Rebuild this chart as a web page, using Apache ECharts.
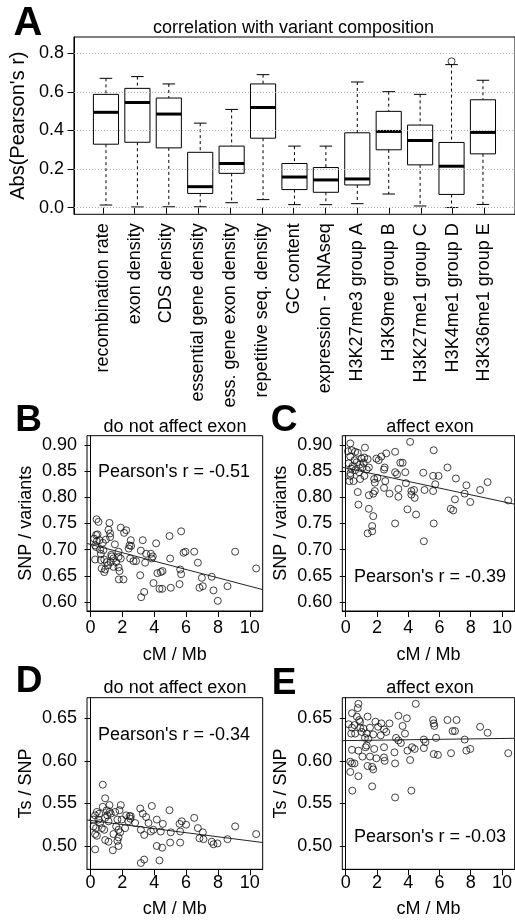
<!DOCTYPE html>
<html>
<head>
<meta charset="utf-8">
<script src="https://cdn.jsdelivr.net/npm/echarts@6/dist/echarts.min.js"></script>
<style>
  html, body { margin: 0; padding: 0; background: #fff; }
  #chart { width: 515px; height: 922px; }
</style>
</head>
<body>
<div id="chart"></div>
<script>
// panel A: correlation of each feature with variant composition
const categories = ['recombination rate', 'exon density', 'CDS density', 'essential gene density',
  'ess. gene exon density', 'repetitive seq. density', 'GC content', 'expression - RNAseq',
  'H3K27me3 group A', 'H3K9me group B', 'H3K27me1 group C', 'H3K4me1 group D', 'H3K36me1 group E']
const boxMin = [0.014, 0.004, 0.005, 0.005, 0.026, 0.042, 0.016, 0.016, 0.021, 0.071, 0.009, 0.001, 0.017]
const boxQ1 = [0.329, 0.339, 0.310, 0.074, 0.178, 0.360, 0.094, 0.080, 0.118, 0.300, 0.222, 0.069, 0.279]
const boxMedian = [0.494, 0.545, 0.485, 0.109, 0.229, 0.519, 0.159, 0.144, 0.149, 0.395, 0.348, 0.215, 0.390]
const boxQ3 = [0.587, 0.618, 0.568, 0.287, 0.319, 0.641, 0.229, 0.208, 0.388, 0.499, 0.428, 0.338, 0.559]
const boxMax = [0.670, 0.679, 0.641, 0.438, 0.509, 0.689, 0.319, 0.319, 0.651, 0.601, 0.587, 0.741, 0.660]
const outliers = [[12, 0.758]]
const ticksA = [0, 0.2, 0.4, 0.6, 0.8]

// panels B-E: per window [cM/Mb, ratio]
const snpNonExon = [
  [0.38, 0.758], [0.50, 0.753], [1.19, 0.751], [1.90, 0.742], [2.24, 0.737], [2.11, 0.732], [1.13, 0.738],
  [1.23, 0.731], [0.35, 0.728], [0.44, 0.729], [0.23, 0.721], [0.56, 0.718], [0.77, 0.713], [0.96, 0.719],
  [1.23, 0.724], [2.53, 0.718], [2.45, 0.708], [1.53, 0.710], [3.28, 0.718], [4.12, 0.712], [4.96, 0.726],
  [5.69, 0.735], [0.29, 0.708], [0.35, 0.705], [0.81, 0.699], [0.65, 0.692], [1.76, 0.696], [3.16, 0.698],
  [3.49, 0.692], [3.79, 0.692], [3.91, 0.687], [1.34, 0.687], [1.44, 0.683], [1.76, 0.686], [1.90, 0.683],
  [0.29, 0.681], [0.65, 0.680], [0.86, 0.681], [1.02, 0.676], [1.27, 0.676], [1.61, 0.676], [2.49, 0.683],
  [2.70, 0.678], [2.86, 0.678], [3.43, 0.675], [3.85, 0.683], [5.00, 0.683], [5.84, 0.694], [5.96, 0.696],
  [6.51, 0.696], [9.08, 0.696], [6.74, 0.675], [10.40, 0.664], [0.92, 0.662], [0.86, 0.657], [1.44, 0.667],
  [1.76, 0.666], [1.82, 0.659], [3.12, 0.651], [4.20, 0.655], [4.41, 0.657], [4.52, 0.659], [5.63, 0.662],
  [5.69, 0.653], [6.99, 0.646], [7.61, 0.648], [1.78, 0.643], [2.07, 0.643], [3.95, 0.636], [4.33, 0.625],
  [4.50, 0.625], [5.04, 0.627], [5.59, 0.634], [6.84, 0.627], [7.05, 0.630], [7.72, 0.622], [8.60, 0.630],
  [3.37, 0.619], [3.18, 0.609], [7.99, 0.602], [0.40, 0.716], [0.60, 0.700], [1.10, 0.670], [0.70, 0.664],
  [1.30, 0.690], [2.40, 0.702], [2.55, 0.707]
]
const snpExon = [
  [0.29, 0.903], [4.12, 0.906], [0.14, 0.888], [0.39, 0.890], [0.60, 0.887], [0.77, 0.885], [1.23, 0.895],
  [5.63, 0.890], [3.16, 0.887], [2.59, 0.884], [2.28, 0.878], [1.96, 0.874], [2.11, 0.871], [1.02, 0.874],
  [1.19, 0.876], [1.40, 0.873], [0.29, 0.878], [0.56, 0.871], [0.19, 0.865], [0.71, 0.867], [0.92, 0.863],
  [1.07, 0.857], [0.35, 0.855], [0.60, 0.852], [1.34, 0.853], [1.48, 0.857], [2.49, 0.857], [2.45, 0.853],
  [3.49, 0.866], [3.64, 0.866], [6.51, 0.857], [3.16, 0.848], [3.28, 0.844], [3.81, 0.848], [4.96, 0.847],
  [5.59, 0.841], [5.94, 0.841], [7.05, 0.836], [9.08, 0.829], [7.72, 0.823], [0.29, 0.841], [0.23, 0.831],
  [0.50, 0.831], [0.92, 0.835], [1.19, 0.841], [1.82, 0.835], [2.03, 0.837], [2.53, 0.831], [1.86, 0.828],
  [3.85, 0.827], [5.73, 0.825], [2.45, 0.818], [3.37, 0.816], [4.20, 0.812], [4.37, 0.814], [5.04, 0.814],
  [5.59, 0.812], [7.61, 0.807], [8.60, 0.814], [10.40, 0.794], [0.77, 0.810], [1.86, 0.812], [1.76, 0.807],
  [1.48, 0.804], [2.80, 0.807], [3.37, 0.801], [4.20, 0.805], [4.41, 0.799], [6.99, 0.796], [7.97, 0.791],
  [0.81, 0.786], [1.48, 0.778], [3.95, 0.777], [4.50, 0.767], [6.72, 0.778], [6.88, 0.775], [1.76, 0.764],
  [3.16, 0.750], [5.63, 0.750], [1.69, 0.745], [1.69, 0.735], [1.40, 0.731], [5.00, 0.716], [0.45, 0.860],
  [0.85, 0.848], [1.15, 0.866], [0.30, 0.846]
]
const tsNonExon = [
  [0.77, 0.572], [0.92, 0.556], [0.40, 0.540], [0.29, 0.536], [0.77, 0.546], [1.19, 0.548], [1.02, 0.542],
  [1.27, 0.538], [1.90, 0.548], [1.82, 0.542], [1.55, 0.540], [2.24, 0.536], [2.45, 0.535], [2.53, 0.535],
  [3.12, 0.544], [3.85, 0.547], [4.96, 0.542], [3.28, 0.538], [3.49, 0.534], [0.19, 0.531], [0.50, 0.531],
  [0.60, 0.527], [0.92, 0.533], [1.13, 0.529], [1.69, 0.531], [1.96, 0.531], [2.38, 0.529], [2.80, 0.527],
  [3.64, 0.527], [4.16, 0.531], [4.54, 0.526], [5.73, 0.529], [5.59, 0.526], [6.00, 0.525], [6.51, 0.533],
  [0.19, 0.523], [0.35, 0.521], [0.71, 0.521], [0.86, 0.519], [1.61, 0.523], [1.76, 0.519], [2.17, 0.521],
  [3.16, 0.519], [3.95, 0.519], [4.41, 0.517], [5.04, 0.516], [5.63, 0.517], [6.74, 0.521], [7.05, 0.516],
  [9.08, 0.523], [10.40, 0.514], [0.29, 0.514], [0.40, 0.512], [1.44, 0.514], [1.86, 0.516], [3.37, 0.513],
  [3.79, 0.517], [6.84, 0.509], [7.09, 0.508], [7.61, 0.505], [7.72, 0.502], [7.97, 0.503], [8.60, 0.508],
  [1.76, 0.510], [1.69, 0.506], [0.92, 0.507], [1.13, 0.505], [5.00, 0.504], [5.63, 0.504], [4.16, 0.500],
  [4.50, 0.498], [1.76, 0.500], [1.40, 0.495], [0.29, 0.496], [3.16, 0.480], [3.37, 0.484], [4.33, 0.483],
  [1.05, 0.536], [1.20, 0.540], [2.50, 0.532], [0.55, 0.538]
]
const tsExon = [
  [0.81, 0.667], [0.77, 0.662], [4.48, 0.667], [0.40, 0.656], [0.71, 0.652], [0.86, 0.648], [0.92, 0.646],
  [1.40, 0.652], [0.19, 0.643], [0.56, 0.642], [1.90, 0.646], [2.28, 0.644], [2.80, 0.644], [3.37, 0.653],
  [3.91, 0.650], [3.64, 0.641], [5.59, 0.648], [5.63, 0.644], [5.67, 0.641], [6.51, 0.648], [7.09, 0.648],
  [6.84, 0.635], [6.99, 0.635], [8.60, 0.640], [9.08, 0.633], [0.40, 0.639], [0.92, 0.639], [1.13, 0.638],
  [1.55, 0.639], [2.07, 0.640], [2.45, 0.637], [2.59, 0.634], [0.35, 0.632], [0.60, 0.632], [1.02, 0.634],
  [1.34, 0.632], [1.76, 0.631], [2.24, 0.630], [3.79, 0.632], [1.23, 0.627], [1.44, 0.626], [3.22, 0.627],
  [3.37, 0.624], [3.53, 0.621], [5.00, 0.625], [5.10, 0.622], [5.78, 0.627], [7.61, 0.625], [0.40, 0.613],
  [0.81, 0.612], [1.27, 0.616], [1.34, 0.618], [1.82, 0.614], [2.45, 0.616], [3.12, 0.610], [3.95, 0.612],
  [4.24, 0.616], [4.41, 0.614], [5.00, 0.615], [5.63, 0.608], [5.90, 0.607], [6.74, 0.609], [7.72, 0.612],
  [7.97, 0.614], [10.40, 0.609], [1.07, 0.605], [1.55, 0.605], [1.96, 0.603], [2.45, 0.604], [2.49, 0.600],
  [3.16, 0.597], [4.12, 0.601], [0.29, 0.599], [0.40, 0.597], [0.56, 0.597], [1.40, 0.594], [1.69, 0.593],
  [1.76, 0.590], [0.29, 0.587], [0.81, 0.582], [1.69, 0.570], [0.42, 0.565], [3.16, 0.557], [4.20, 0.565]
]
// regression fits [intercept, slope]
const fitSnpNonExon = [0.710, -0.0080]
const fitSnpExon = [0.856, -0.0064]
const fitTsNonExon = [0.530, -0.0024]
const fitTsExon = [0.6238, 0.00025]
const ticksX = [0, 2, 4, 6, 8, 10]
const ticksSnp = [0.60, 0.65, 0.70, 0.75, 0.80, 0.85, 0.90]
const ticksTs = [0.50, 0.55, 0.60, 0.65]

const FONT = '"Liberation Sans", Arial, Helvetica, sans-serif'
const X_RANGE = [-0.22, 10.81]

const chart = echarts.init(document.getElementById('chart'), null, { renderer: 'canvas' })

function fitLine(fit) {
  return X_RANGE.map((x) => [x, fit[0] + fit[1] * x])
}

// 箱线图: 虚线须 + 白底箱 + 粗中位线
function renderBox(params, api) {
  const x = api.value(0)
  const yOf = (v) => api.coord([x, v])[1]
  const xl = api.coord([x - 0.4, 0])[0]
  const xr = api.coord([x + 0.4, 0])[0]
  const cl = api.coord([x - 0.2, 0])[0]
  const cr = api.coord([x + 0.2, 0])[0]
  const xc = api.coord([x, 0])[0]
  const yMin = yOf(api.value(1))
  const yQ1 = yOf(api.value(2))
  const yMed = yOf(api.value(3))
  const yQ3 = yOf(api.value(4))
  const yMax = yOf(api.value(5))
  const dashed = { stroke: '#000', lineWidth: 1, lineDash: [3, 3] }
  const solid = { stroke: '#000', lineWidth: 1 }
  return {
    type: 'group',
    children: [
      { type: 'line', shape: { x1: xc, y1: yMax, x2: xc, y2: yQ3 }, style: dashed },
      { type: 'line', shape: { x1: xc, y1: yQ1, x2: xc, y2: yMin }, style: dashed },
      { type: 'line', shape: { x1: cl, y1: yMax, x2: cr, y2: yMax }, style: solid },
      { type: 'line', shape: { x1: cl, y1: yMin, x2: cr, y2: yMin }, style: solid },
      { type: 'rect', shape: { x: xl, y: yQ3, width: xr - xl, height: yQ1 - yQ3 }, style: { fill: '#fff', stroke: '#000', lineWidth: 1 } },
      { type: 'line', shape: { x1: xl, y1: yMed, x2: xr, y2: yMed }, style: { stroke: '#000', lineWidth: 3 } }
    ]
  }
}

const scatterGrids = [
  { left: 87, top: 435.7, width: 175.7, height: 175.3 },
  { left: 342.3, top: 435.7, width: 175.7, height: 175.3 },
  { left: 87, top: 697.7, width: 175.7, height: 171.6 },
  { left: 342.3, top: 697.7, width: 175.7, height: 171.6 }
]

const labelStyle = { color: '#000', fontSize: 18, fontFamily: FONT }

function scatterX(gridIndex, margin, nameGap) {
  return {
    type: 'value', gridIndex, min: X_RANGE[0], max: X_RANGE[1],
    name: 'cM / Mb', nameLocation: 'middle', nameGap,
    nameTextStyle: labelStyle,
    axisLine: { show: true, lineStyle: { color: '#000' } },
    axisTick: { length: 6, customValues: ticksX, lineStyle: { color: '#000' } },
    axisLabel: { ...labelStyle, margin, customValues: ticksX, formatter: (v) => String(v) },
    splitLine: { show: false }
  }
}

function scatterY(gridIndex, range, ticks, name) {
  return {
    type: 'value', gridIndex, min: range[0], max: range[1],
    name, nameLocation: 'middle', nameGap: 52, nameRotate: 90,
    nameTextStyle: labelStyle,
    axisLine: { show: true, lineStyle: { color: '#000' } },
    axisTick: { length: 6, customValues: ticks, lineStyle: { color: '#000' } },
    axisLabel: { ...labelStyle, margin: 10, customValues: ticks, formatter: (v) => v.toFixed(2) },
    splitLine: { show: false }
  }
}

function pointSeries(data, idx) {
  return {
    type: 'scatter', xAxisIndex: idx, yAxisIndex: idx, data,
    symbol: 'circle', symbolSize: 7,
    itemStyle: { color: 'transparent', borderColor: '#111', borderWidth: 1 },
    silent: true, z: 3
  }
}

function fitSeries(fit, idx) {
  return {
    type: 'line', xAxisIndex: idx, yAxisIndex: idx, data: fitLine(fit),
    symbol: 'none', lineStyle: { color: '#222', width: 1 }, silent: true, z: 2
  }
}

function txt(text, x, y, size, bold) {
  return {
    type: 'text', x, y, silent: true,
    style: {
      text, fill: '#000', align: 'center', verticalAlign: 'middle',
      font: (bold ? 'bold ' : '') + size + 'px ' + FONT
    }
  }
}

const boxData = categories.map((c, i) => [i + 1, boxMin[i], boxQ1[i], boxMedian[i], boxQ3[i], boxMax[i]])

const option = {
  animation: false,
  backgroundColor: '#fff',
  grid: [
    { left: 70, top: 37, width: 447, height: 177.3, show: true, borderColor: '#000', borderWidth: 1, backgroundColor: 'transparent' },
    { left: 87, top: 37, width: 413.4, height: 177.3 },
    ...scatterGrids.map((g) => ({ ...g, show: true, borderColor: '#000', borderWidth: 1, backgroundColor: 'transparent' }))
  ],
  xAxis: [
    { type: 'value', gridIndex: 0, min: -0.02, max: 14.02, show: false },
    {
      type: 'category', gridIndex: 1, data: categories, boundaryGap: true,
      axisLine: { show: false },
      axisTick: { show: true, alignWithLabel: true, length: 6, lineStyle: { color: '#000' } },
      axisLabel: { ...labelStyle, rotate: 90, interval: 0, margin: 9 }
    },
    scatterX(2, 8, 35), scatterX(3, 8, 35), scatterX(4, 5, 31), scatterX(5, 5, 31)
  ],
  yAxis: [
    {
      type: 'value', gridIndex: 0, min: -0.034, max: 0.884,
      name: "Abs(Pearson's r)", nameLocation: 'middle', nameGap: 34, nameRotate: 90,
      nameTextStyle: { ...labelStyle, fontSize: 20 },
      axisLine: { show: true, lineStyle: { color: '#000' } },
      axisTick: { length: 7, customValues: ticksA, lineStyle: { color: '#000' } },
      axisLabel: { ...labelStyle, margin: 10, customValues: ticksA, formatter: (v) => v.toFixed(1) },
      splitLine: { show: false }
    },
    { type: 'value', gridIndex: 1, min: -0.034, max: 0.884, show: false },
    scatterY(2, [0.5826, 0.9178], ticksSnp, 'SNP / variants'),
    scatterY(3, [0.5826, 0.9178], ticksSnp, 'SNP / variants'),
    scatterY(4, [0.4726, 0.6742], ticksTs, 'Ts / SNP'),
    scatterY(5, [0.4726, 0.6742], ticksTs, 'Ts / SNP')
  ],
  series: [
    {
      // 虚线网格
      type: 'line', xAxisIndex: 0, yAxisIndex: 0, data: [], silent: true,
      markLine: {
        silent: true, symbol: 'none', label: { show: false },
        lineStyle: { color: '#aaa', type: [1, 2], width: 1 },
        data: ticksA.map((v) => ({ yAxis: v }))
      },
      z: 1
    },
    {
      type: 'custom', xAxisIndex: 0, yAxisIndex: 0, data: boxData,
      renderItem: renderBox, encode: { x: 0, y: [1, 2, 3, 4, 5] }, silent: true, z: 3
    },
    pointSeries(outliers, 0),
    pointSeries(snpNonExon, 2), fitSeries(fitSnpNonExon, 2),
    pointSeries(snpExon, 3), fitSeries(fitSnpExon, 3),
    pointSeries(tsNonExon, 4), fitSeries(fitTsNonExon, 4),
    pointSeries(tsExon, 5), fitSeries(fitTsExon, 5)
  ],
  graphic: [
    txt('A', 28, 24, 40, true),
    txt('correlation with variant composition', 293.5, 28, 18),
    txt('B', 28.5, 421, 37, true),
    txt('do not affect exon', 175, 427, 18),
    txt('C', 284, 421, 37, true),
    txt('affect exon', 430, 427, 18),
    txt('D', 29, 682, 37, true),
    txt('do not affect exon', 175, 688, 18),
    txt('E', 284, 684, 37, true),
    txt('affect exon', 430, 688, 18),
    txt("Pearson's r = -0.51", 174, 472, 18),
    txt("Pearson's r = -0.39", 430, 577, 18),
    txt("Pearson's r = -0.34", 174, 735, 18),
    txt("Pearson's r = -0.03", 430, 837, 18)
  ]
}

chart.setOption(option)
</script>
</body>
</html>
